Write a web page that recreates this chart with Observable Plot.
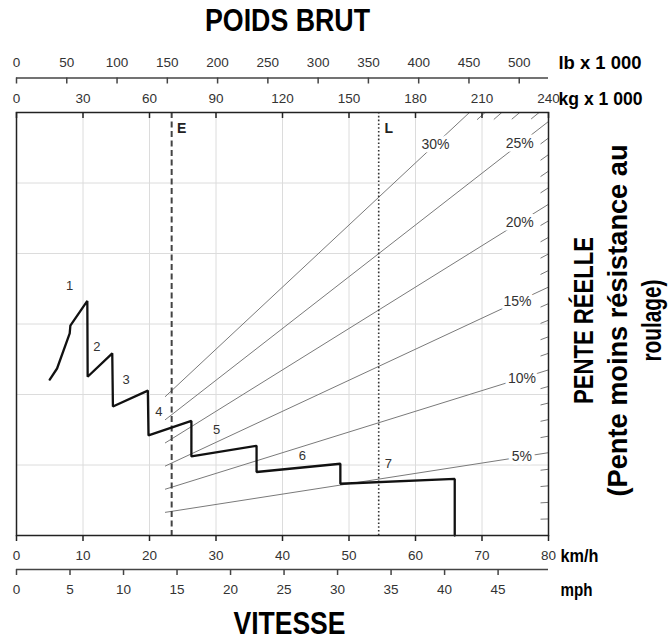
<!DOCTYPE html>
<html><head><meta charset="utf-8">
<script src="https://cdn.jsdelivr.net/npm/d3@7"></script>
<script src="https://cdn.jsdelivr.net/npm/@observablehq/plot@0.6"></script>
<style>html,body{margin:0;padding:0;background:#fff;}</style>
</head><body><div id="chart"></div>
<script>
// ---- data ----
const kmhTicks = [0, 10, 20, 30, 40, 50, 60, 70, 80];
const mphTicks = [0, 5, 10, 15, 20, 25, 30, 35, 40, 45];
const kgTicks = [0, 30, 60, 90, 120, 150, 180, 210, 240];
const lbTicks = [0, 50, 100, 150, 200, 250, 300, 350, 400, 450, 500];

const grades = [5, 10, 15, 20, 25, 30];
const gradeLabelWeight = [228, 228, 226, 227, 227, 189];
const minorGrades = [1, 2, 3, 4, 6, 7, 8, 9, 11, 12, 13, 14, 16, 17, 18, 19, 21, 22, 23, 24, 26, 27, 28, 29];
const gradeLineStartWeight = 67;

// rimpull curve (speed km/h, force t x 1000)
const curveSpeed = [5.0, 6.1, 8.0, 8.1, 10.65, 10.7, 14.4, 14.5, 19.75, 19.85, 26.3, 26.3, 36.1, 36.1, 48.7, 48.7, 65.9, 65.9];
const curveForce = [22.6, 24.2, 29.3, 30.4, 34.0, 23.0, 26.4, 18.7, 21.0, 14.5, 16.6, 11.45, 13.0, 9.2, 10.4, 7.5, 8.2, 0];

const gearLabels = ["1", "2", "3", "4", "5", "6", "7"];
const gearLabelSpeed = [8.0, 12.1, 16.5, 21.4, 30.1, 43.0, 55.9];
const gearLabelForce = [36.2, 27.4, 22.5, 17.9, 15.3, 11.5, 10.4];

const limitNames = ["E", "L"];
const limitWeights = [70, 163.4];

// titles: text and reference width (px) used to condense the bold face
const titleTexts = ["POIDS BRUT", "VITESSE"];
const titleWidths = [165, 112];
const unitTexts = ["lb x 1 000", "kg x 1 000", "km/h", "mph"];
const unitWidths = [83, 84, 38, 32];
const sideLines = ["PENTE RÉELLE", "(Pente moins résistance au", "roulage)"];
const sideWidths = [167, 352, 82];

const forceMax = 61.3;
const weightMax = 240;
const kgPerKmh = 3, lbPerKg = 2.20462, kmhPerMph = 1.609344;

// ---- layout ----
const W = 670, H = 644, mT = 112, mB = 109, mL = 16, mR = 122;
const frameH = H - mT - mB;
const tickLen = 6;
const bold = "'Liberation Sans', Arial, sans-serif";
const ink = "#333";

const wx = w => w / kgPerKmh;           // weight (t) -> x scale units
const gridY = d3.range(1, 6).map(i => i * forceMax / 6);
const gradeData = grades.map((g, i) => {
  const wEnd = Math.min(weightMax, forceMax * 100 / g);
  return {g, wStart: gradeLineStartWeight, wEnd, wLab: gradeLabelWeight[i]};
});
const minorData = minorGrades.map(g => {
  const wEnd = Math.min(weightMax, forceMax * 100 / g);
  return {g, wEnd, wStart: wEnd - 3.6};
});
const curve = curveSpeed.map((s, i) => ({s, f: curveForce[i]}));
const gears = gearLabels.map((t, i) => ({t, s: gearLabelSpeed[i], f: gearLabelForce[i]}));
const limits = limitNames.map((n, i) => ({n, w: limitWeights[i]}));

const mid = {lineAnchor: "middle"};
const titleStyle = {fontFamily: bold, fontWeight: "bold", fill: "#000", lineAnchor: "middle"};
const unitOffsets = [[-49.5, "top-right"], [-14, "top-right"], [20, "bottom-right"], [54, "bottom-right"]];
const sideOffsets = [-34, 0, 34];

const chart = Plot.plot({
  width: W, height: H,
  marginTop: mT, marginBottom: mB, marginLeft: mL, marginRight: mR,
  x: {domain: [0, 80], axis: null},
  y: {domain: [0, forceMax], axis: null},
  style: {fontFamily: "'Liberation Sans', Arial, sans-serif", fontSize: "13.5px", background: "white", color: ink},
  marks: [
    // grid
    Plot.ruleX(kmhTicks.slice(1, -1), {stroke: "#dcdcdc", strokeWidth: 1}),
    Plot.ruleY(gridY, {stroke: "#dcdcdc", strokeWidth: 1}),
    // grade lines
    Plot.link(gradeData, {x1: d => wx(d.wStart), y1: d => d.g * d.wStart / 100, x2: d => wx(d.wEnd), y2: d => d.g * d.wEnd / 100, stroke: "#7a7a7a", strokeWidth: 1}),
    Plot.link(minorData, {x1: d => wx(d.wStart), y1: d => d.g * d.wStart / 100, x2: d => wx(d.wEnd), y2: d => d.g * d.wEnd / 100, stroke: "#7a7a7a", strokeWidth: 1}),
    Plot.text(gradeData, {x: d => wx(d.wLab), y: d => d.g * d.wLab / 100, text: d => d.g + "%", fill: ink, stroke: "white", strokeWidth: 7, fontSize: 14}),
    // E / L limits
    Plot.ruleX(limits.filter(d => d.n === "E"), {x: d => wx(d.w), stroke: "#444", strokeWidth: 2, strokeDasharray: "6,3.5"}),
    Plot.ruleX(limits.filter(d => d.n === "L"), {x: d => wx(d.w), stroke: "#333", strokeWidth: 1.6, strokeDasharray: "1.6,2.2"}),
    Plot.text(limits, {...mid, x: d => wx(d.w), frameAnchor: "top", dx: 10, dy: 16, text: "n", fontWeight: "bold", fontSize: 14, fill: "#222"}),
    // rimpull curve
    Plot.line(curve, {x: "s", y: "f", stroke: "#111", strokeWidth: 2.3, strokeLinejoin: "miter"}),
    Plot.text(gears, {x: "s", y: "f", text: "t", fontSize: 13, fill: ink}),
    // frame
    Plot.frame({stroke: "#222", strokeWidth: 1.5}),
    // top axes: kg (on frame) and lb (above)
    Plot.tickX(kgTicks, {x: d => wx(d), insetBottom: frameH - tickLen, stroke: "#222", strokeWidth: 1.5}),
    Plot.text(kgTicks, {...mid, x: d => wx(d), frameAnchor: "top", dy: -14, text: d => d, fill: ink}),
    Plot.ruleY([forceMax], {dy: -34.5, stroke: "#444", strokeWidth: 1.5}),
    Plot.tickX(lbTicks, {x: d => wx(d / lbPerKg), insetBottom: frameH - tickLen, dy: -34.5, stroke: "#444", strokeWidth: 1.5}),
    Plot.text(lbTicks, {...mid, x: d => wx(d / lbPerKg), frameAnchor: "top", dy: -49.5, text: d => d, fill: ink}),
    // bottom axes: km/h (on frame) and mph (below)
    Plot.tickX(kmhTicks, {x: d => d, insetTop: frameH - tickLen, dy: tickLen, stroke: "#222", strokeWidth: 1.5}),
    Plot.text(kmhTicks, {...mid, x: d => d, frameAnchor: "bottom", dy: 20, text: d => d, fill: ink}),
    Plot.ruleY([0], {dy: 34, stroke: "#444", strokeWidth: 1.5}),
    Plot.tickX(mphTicks, {x: d => d * kmhPerMph, insetTop: frameH - tickLen, dy: 34 + tickLen, stroke: "#444", strokeWidth: 1.5}),
    Plot.text(mphTicks, {...mid, x: d => d * kmhPerMph, frameAnchor: "bottom", dy: 54, text: d => d, fill: ink}),
    // unit labels
    ...unitTexts.map((t, i) => Plot.text([t], {...titleStyle, frameAnchor: unitOffsets[i][1], dx: i < 2 ? 10 : 12, dy: unitOffsets[i][0], textAnchor: "start", fontSize: 19})),
    // titles
    Plot.text([titleTexts[0]], {...titleStyle, frameAnchor: "top", dx: 5, dy: -91, fontSize: 31}),
    Plot.text([titleTexts[1]], {...titleStyle, frameAnchor: "bottom", dx: 7, dy: 89, fontSize: 31}),
    ...sideLines.map((t, i) => Plot.text([t], {...titleStyle, frameAnchor: "right", textAnchor: "middle", dx: 70 + sideOffsets[i], dy: -3.5, rotate: -90, fontSize: 28}))
  ]
});

// condense the bold headings to the reference widths (narrow bold face)
const widthByText = new Map([
  ...titleTexts.map((t, i) => [t, titleWidths[i]]),
  ...unitTexts.map((t, i) => [t, unitWidths[i]]),
  ...sideLines.map((t, i) => [t, sideWidths[i]])
]);
chart.querySelectorAll("text").forEach(el => {
  const w = widthByText.get(el.textContent);
  if (w) { el.setAttribute("textLength", w); el.setAttribute("lengthAdjust", "spacingAndGlyphs"); }
});
document.getElementById("chart").appendChild(chart);
</script>
</body></html>
